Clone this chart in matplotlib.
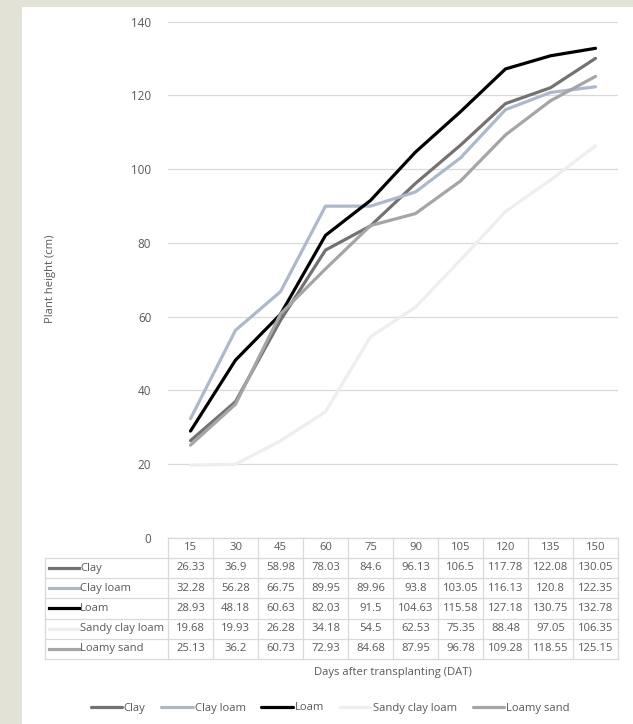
import matplotlib.pyplot as plt
import matplotlib.transforms as mtransforms
from matplotlib.lines import Line2D
from matplotlib.patches import Rectangle

# plant height (cm) by days after transplanting, per soil type
days = [15, 30, 45, 60, 75, 90, 105, 120, 135, 150]
soils = ["Clay", "Clay loam", "Loam", "Sandy clay loam", "Loamy sand"]
clay = [26.33, 36.9, 58.98, 78.03, 84.6, 96.13, 106.5, 117.78, 122.08, 130.05]
clay_loam = [32.28, 56.28, 66.75, 89.95, 89.96, 93.8, 103.05, 116.13, 120.8, 122.35]
loam = [28.93, 48.18, 60.63, 82.03, 91.5, 104.63, 115.58, 127.18, 130.75, 132.78]
sandy_clay_loam = [19.68, 19.93, 26.28, 34.18, 54.5, 62.53, 75.35, 88.48, 97.05, 106.35]
loamy_sand = [25.13, 36.2, 60.73, 72.93, 84.68, 87.95, 96.78, 109.28, 118.55, 125.15]
heights = [clay, clay_loam, loam, sandy_clay_loam, loamy_sand]
colors = ["#767171", "#adb9ca", "#000000", "#eeeeee", "#a5a5a5"]

plt.rcParams["font.family"] = "Open Sans"
text_color = "#595959"
grid_color = "#d9d9d9"
fs = 8.1

W, H = 633, 724
fig = plt.figure(figsize=(W / 100, H / 100), dpi=100)
fig.patch.set_facecolor("#e3e2d6")


def fx(px):
    return px / W


def fy(py):
    return 1 - py / H


# white chart area
fig.add_artist(Rectangle((fx(22), 0), 1 - fx(22), fy(7), transform=fig.transFigure,
                         facecolor="white", edgecolor="none", zorder=-1))

ax = fig.add_axes([fx(168), fy(537.7), fx(618) - fx(168), fy(21.7) - fy(537.7)])
ax.set_facecolor("none")
x = list(range(len(days)))
lines = []
for name, vals, c in zip(soils, heights, colors):
    ln, = ax.plot(x, vals, color=c, lw=2.3, solid_joinstyle="round",
                  solid_capstyle="round", label=name)
    lines.append(ln)

ax.set_xlim(-0.5, len(days) - 0.5)
ax.set_ylim(0, 140)
ax.set_yticks(range(0, 141, 20))
ax.set_xticks([])
ax.grid(axis="y", color=grid_color, lw=0.9)
ax.set_axisbelow(True)
ax.tick_params(axis="y", length=0, pad=12, labelsize=8.4, labelcolor=text_color)
for s in ax.spines.values():
    s.set_visible(False)

fig.text(fx(50), fy(279), "Plant height (cm)", rotation=90, ha="center", va="center",
         size=fs, color=text_color)

# data table under the plot
trans = mtransforms.blended_transform_factory(ax.transData, fig.transFigure)
top = 537.7
rh = 20.2
left = 45
n_rows = len(soils) + 1
bottom = top + rh * n_rows

for i, d in enumerate(days):
    fig.text(i, fy(top + rh / 2), str(d), transform=trans, ha="center", va="center",
             size=fs, color=text_color)

for r, (name, vals, c) in enumerate(zip(soils, heights, colors)):
    yc = fy(top + rh * (r + 1.5))
    fig.add_artist(Line2D([fx(49), fx(79)], [yc, yc], color=c, lw=2.3,
                          transform=fig.transFigure))
    fig.text(fx(80), yc, name, ha="left", va="center", size=fs, color=text_color)
    for i, v in enumerate(vals):
        fig.text(i, yc, f"{v:g}", transform=trans, ha="center", va="center",
                 size=fs, color=text_color)

# table borders
for k in range(n_rows + 1):
    yl = fy(top + rh * k)
    x0 = fx(168) if k == 0 else fx(left)
    fig.add_artist(Line2D([x0, fx(618)], [yl, yl], color=grid_color, lw=0.9,
                          transform=fig.transFigure))
for i in range(len(days) + 1):
    fig.add_artist(Line2D([i - 0.5, i - 0.5], [fy(top), fy(bottom)], color=grid_color,
                          lw=0.9, transform=trans))
fig.add_artist(Line2D([fx(left), fx(left)], [fy(top + rh), fy(bottom)], color=grid_color,
                      lw=0.9, transform=fig.transFigure))

fig.text(fx(393), fy(672), "Days after transplanting (DAT)", ha="center", va="center",
         size=fs, color=text_color)

fig.legend(lines, soils, loc="center", bbox_to_anchor=(fx(330), fy(708)), ncol=5,
           frameon=False, fontsize=fs, labelcolor=text_color, handlelength=2.8,
           handletextpad=0.15, columnspacing=1.4)

fig.savefig("out.png", dpi=100, facecolor=fig.get_facecolor())
